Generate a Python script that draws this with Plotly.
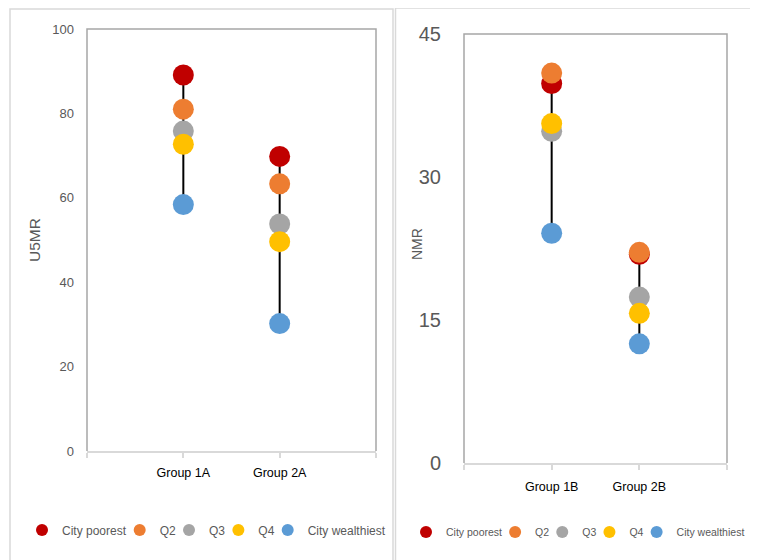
import plotly.graph_objects as go

# ---- data ----
groups_a = ["Group 1A", "Group 2A"]
groups_b = ["Group 1B", "Group 2B"]
series_names = ["City poorest", "Q2", "Q3", "Q4", "City wealthiest"]

u5mr_poorest = [89.1, 69.8]
u5mr_q2 = [81.0, 63.3]
u5mr_q3 = [75.8, 53.8]
u5mr_q4 = [72.7, 49.6]
u5mr_wealthiest = [58.4, 30.2]

nmr_poorest = [39.8, 21.9]
nmr_q2 = [40.9, 22.1]
nmr_q3 = [34.8, 17.4]
nmr_q4 = [35.6, 15.7]
nmr_wealthiest = [24.1, 12.5]

u5mr_ticks = [0, 20, 40, 60, 80, 100]
nmr_ticks = [0, 15, 30, 45]

colors = ["#C00000", "#ED7D31", "#A5A5A5", "#FFC000", "#5B9BD5"]

FONT = "Liberation Sans, Arial, sans-serif"
W, H = 758, 560
OFF = 8  # page body margin offset


def px(x):
    return (x - OFF) / W


def py(y):
    return 1 - (y - OFF) / H


u5mr_series = [u5mr_poorest, u5mr_q2, u5mr_q3, u5mr_q4, u5mr_wealthiest]
nmr_series = [nmr_poorest, nmr_q2, nmr_q3, nmr_q4, nmr_wealthiest]

fig = go.Figure()


def add_panel(groups, series, xa, ya, legend):
    xs = list(range(1, len(groups) + 1))
    # high-low connecting lines
    lx, ly = [], []
    for i, x in enumerate(xs):
        vals = [s[i] for s in series]
        lx += [x, x, None]
        ly += [max(vals), min(vals), None]
    fig.add_trace(go.Scatter(x=lx, y=ly, mode="lines", xaxis=xa, yaxis=ya,
                             line=dict(color="black", width=2),
                             showlegend=False, hoverinfo="skip"))
    for name, vals, col in zip(series_names, series, colors):
        fig.add_trace(go.Scatter(x=xs, y=vals, mode="markers", name=name,
                                 xaxis=xa, yaxis=ya, legend=legend,
                                 marker=dict(color=col, size=21, line=dict(width=0))))


add_panel(groups_a, u5mr_series, "x", "y", "legend")
add_panel(groups_b, nmr_series, "x2", "y2", "legend2")

xcommon = dict(range=[0, len(groups_a) + 1], showgrid=False, zeroline=False,
               showline=True, linecolor="#D9D9D9", linewidth=1.5, automargin=False,
               ticks="outside", ticklen=5, tickcolor="#D9D9D9", tickwidth=1.5,
               tickvals=list(range(0, len(groups_a) + 2)))
ycommon = dict(showgrid=False, zeroline=False, showline=False, ticks="", automargin=False)

fig.update_layout(
    width=W, height=H,
    margin=dict(l=0, r=0, t=0, b=0, autoexpand=False),
    paper_bgcolor="white", plot_bgcolor="white",
    font=dict(family=FONT, color="#595959"),
    xaxis=dict(**xcommon, domain=[px(87), px(376)], anchor="y",
               ticktext=[""] + groups_a + [""],
               tickfont=dict(size=12.5, color="#000000"), ticklabelstandoff=4),
    yaxis=dict(**ycommon, domain=[py(451), py(29)], anchor="x",
               range=[0, 100], tickvals=u5mr_ticks,
               tickfont=dict(size=13, color="#595959"), ticklabelstandoff=12,
               title=dict(text="U5MR", font=dict(size=15.5, color="#595959"), standoff=7)),
    xaxis2=dict(**xcommon, domain=[px(464), px(727)], anchor="y2",
                ticktext=[""] + groups_b + [""],
                tickfont=dict(size=12.5, color="#000000"), ticklabelstandoff=6),
    yaxis2=dict(**ycommon, domain=[py(463), py(34)], anchor="x2",
                range=[0, 45], tickvals=nmr_ticks,
                tickfont=dict(size=20, color="#595959"), ticklabelstandoff=22),
    annotations=[
        dict(text="NMR", textangle=-90, xref="paper", yref="paper",
             x=px(417), y=py(244), xanchor="center", yanchor="middle", showarrow=False,
             font=dict(size=14, color="#595959", family=FONT)),
    ],
    legend=dict(orientation="h", x=px(34), xanchor="left", y=py(530), yanchor="middle",
                font=dict(size=12, color="#595959", family=FONT), itemsizing="constant",
                indentation=-12, bgcolor="rgba(0,0,0,0)", tracegroupgap=0),
    legend2=dict(orientation="h", x=px(418), xanchor="left", y=py(532), yanchor="middle",
                 font=dict(size=10.5, color="#595959", family=FONT), itemsizing="constant",
                 indentation=-12, bgcolor="rgba(0,0,0,0)", tracegroupgap=0),
    shapes=[
        # outer chart-area borders
        dict(type="rect", xref="paper", yref="paper", x0=px(10), x1=px(393), y0=py(575), y1=py(9),
             line=dict(color="#D9D9D9", width=1.5)),
        dict(type="rect", xref="paper", yref="paper", x0=px(395.5), x1=px(775), y0=py(575), y1=py(8),
             line=dict(color="#D9D9D9", width=1.5)),
        # plot-area frames (left, top, right)
        dict(type="path", xref="x domain", yref="y domain", path="M 0 0 L 0 1 L 1 1 L 1 0",
             line=dict(color="#A6A6A6", width=1.5)),
        dict(type="path", xref="x2 domain", yref="y2 domain", path="M 0 0 L 0 1 L 1 1 L 1 0",
             line=dict(color="#A6A6A6", width=1.5)),
    ],
)

fig.write_html("out.html")
